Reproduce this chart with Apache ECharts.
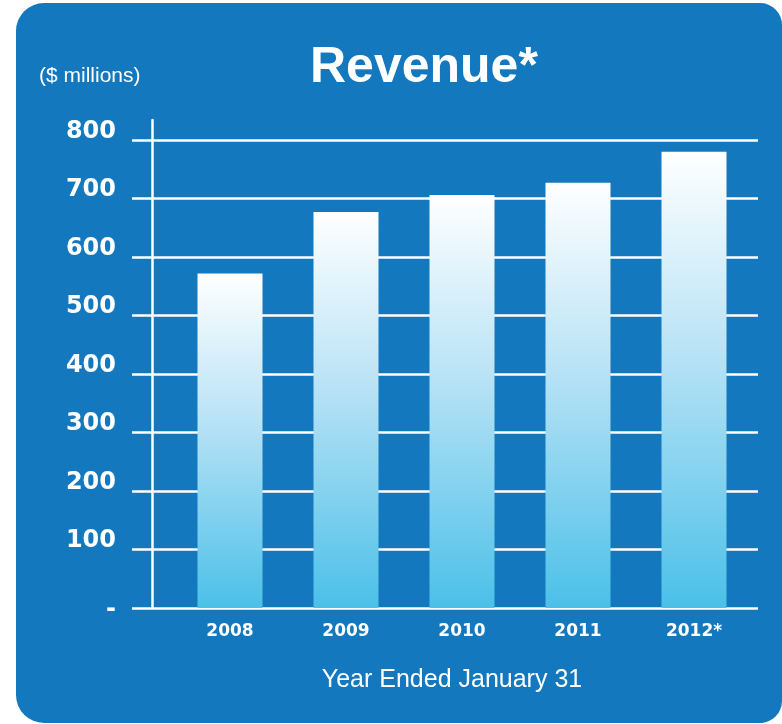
<!DOCTYPE html>
<html>
<head>
<meta charset="utf-8">
<script src="https://cdn.jsdelivr.net/npm/echarts@6/dist/echarts.min.js"></script>
<style>
  html, body { margin: 0; padding: 0; background: #ffffff; }
  #wrap { position: relative; width: 782px; height: 724px; overflow: hidden; }
  #panel {
    position: absolute; left: 16px; top: 3px; width: 766px; height: 720px;
    background: #1378bd; border-radius: 28px 22px 22px 28px;
  }
  #chart { position: absolute; left: 0; top: 0; width: 782px; height: 724px; }
</style>
</head>
<body>
<div id="wrap">
  <div id="panel"></div>
  <div id="chart"></div>
</div>
<script>
// Revenue by fiscal year, $ millions
const years = ['2008', '2009', '2010', '2011', '2012*'];
const revenue = [572, 677, 706, 727, 780];
const yTicks = [0, 100, 200, 300, 400, 500, 600, 700, 800];

const white = '#ffffff';
const lineW = 2.5;

const chart = echarts.init(document.getElementById('chart'), null, { renderer: 'canvas' });

chart.setOption({
  backgroundColor: 'transparent',
  animation: false,
  title: [
    {
      text: 'Revenue*', left: 305, top: 37,
      textStyle: { color: white, fontFamily: 'Liberation Sans', fontWeight: 'bold', fontSize: 50, lineHeight: 52 }
    },
    {
      text: '($ millions)', left: 34, top: 60,
      textStyle: { color: white, fontFamily: 'Liberation Sans', fontWeight: 'normal', fontSize: 21, lineHeight: 22 }
    }
  ],
  grid: [
    // value grid: gridlines, tick stubs and value labels
    { left: 152, right: 24, top: 140, bottom: 116 },
    // vertical axis line, rising a little above the top gridline
    { left: 152, right: 24, top: 120, bottom: 116 },
    // category grid for the bars
    { left: 172, right: 30, top: 140, bottom: 116 }
  ],
  xAxis: [
    { gridIndex: 0, type: 'value', show: false },
    { gridIndex: 1, type: 'value', show: false },
    {
      gridIndex: 2, type: 'category', data: years,
      axisLine: { show: false }, axisTick: { show: false },
      axisLabel: {
        color: white, fontFamily: 'DejaVu Sans', fontWeight: 'bold', fontSize: 17, margin: 15
      },
      name: 'Year Ended January 31', nameLocation: 'middle', nameGap: 60,
      nameTextStyle: {
        color: white, fontFamily: 'Liberation Sans', fontSize: 25, padding: [0, 20, 0, 0]
      }
    }
  ],
  yAxis: [
    {
      gridIndex: 0, type: 'value', min: yTicks[0], max: yTicks[yTicks.length - 1], interval: 100,
      axisLine: { show: false },
      axisTick: { show: true, length: 20, lineStyle: { color: white, width: lineW } },
      splitLine: { show: true, lineStyle: { color: white, width: lineW } },
      axisLabel: {
        margin: 36,
        formatter: v => v === 0 ? '{d|-}' : '{n|' + v + '}',
        rich: {
          n: { color: white, fontFamily: 'DejaVu Sans', fontWeight: 'bold', fontSize: 24, padding: [0, 0, 17, 0] },
          d: { color: white, fontFamily: 'DejaVu Sans', fontWeight: 'bold', fontSize: 24, padding: [4, 0, 0, 0] }
        }
      }
    },
    {
      gridIndex: 1, type: 'value', min: 0, max: 1,
      axisLine: { show: true, lineStyle: { color: white, width: lineW } },
      axisTick: { show: false }, splitLine: { show: false }, axisLabel: { show: false }
    },
    {
      gridIndex: 2, type: 'value', min: yTicks[0], max: yTicks[yTicks.length - 1], interval: 100,
      show: false, splitLine: { show: false }
    }
  ],
  series: [
    {
      type: 'bar', xAxisIndex: 2, yAxisIndex: 2,
      data: revenue, barWidth: 65,
      itemStyle: {
        color: new echarts.graphic.LinearGradient(0, 0, 0, 1, [
          { offset: 0, color: '#ffffff' },
          { offset: 0.45, color: '#b7e2f5' },
          { offset: 1, color: '#4bc0e8' }
        ])
      }
    }
  ]
});
</script>
</body>
</html>
